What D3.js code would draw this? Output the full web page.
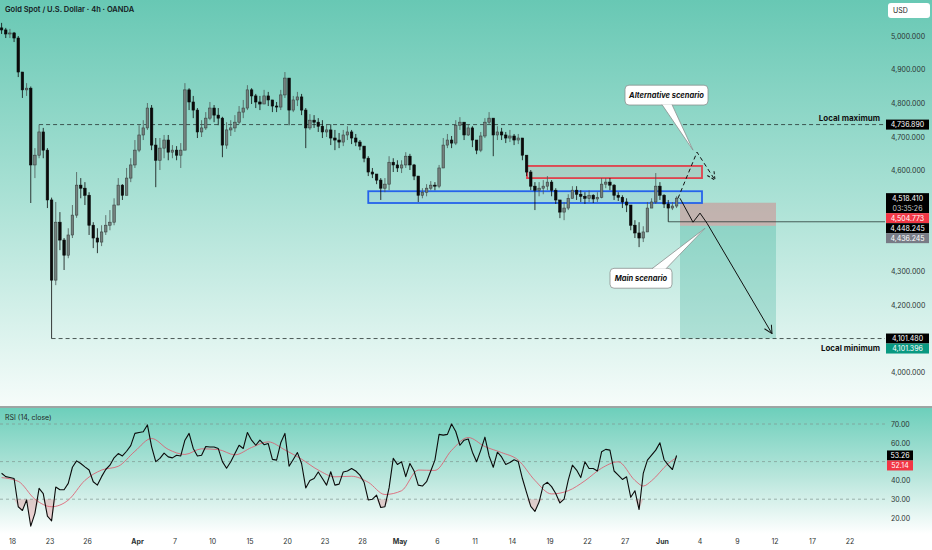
<!DOCTYPE html>
<html>
<head>
<meta charset="utf-8">
<script src="https://cdn.jsdelivr.net/npm/d3@7"></script>
<style>
html, body { margin: 0; padding: 0; background: #fff; }
svg { display: block; font-family: Inter, "Noto Sans", sans-serif; }
</style>
</head>
<body>
<svg id="chart" width="932" height="550"></svg>
<script>
// ---- data ----
var tickDays = [0, 3, 6, 10, 13, 16, 19, 22, 25, 28, 31, 34, 37, 40, 43, 46, 49, 52, 55, 58, 61, 64, 67];
var tickLabels = ['18', '23', '26', 'Apr', '7', '10', '15', '20', '23', '28', 'May', '6', '11', '14', '19', '22', '27', 'Jun', '4', '9', '12', '17', '22'];
var priceTicks = [4000, 4200, 4300, 4600, 4700, 4800, 4900, 5000];
var rsiTicks = [20, 30, 40, 60, 70];
var rsiLevels = [30, 50, 70];

// candles: one per third of a trading session, open = previous close
var firstDay = -1;
var barDays = 1 / 3;
var firstOpen = 5024;
var closes = [5018, 5006, 5009, 4994, 4893, 4840, 4845, 4617, 4646, 4715,
    4661, 4513, 4275, 4447, 4394, 4349, 4409, 4468, 4557, 4548,
    4527, 4438, 4400, 4388, 4418, 4438, 4447, 4498, 4557, 4527,
    4578, 4617, 4661, 4706, 4727, 4786, 4676, 4631, 4667, 4691,
    4655, 4661, 4646, 4661, 4840, 4804, 4780, 4715, 4727, 4756,
    4786, 4765, 4756, 4676, 4721, 4727, 4744, 4774, 4786, 4840,
    4822, 4804, 4798, 4822, 4810, 4792, 4789, 4825, 4875, 4780,
    4810, 4819, 4780, 4727, 4750, 4744, 4732, 4715, 4721, 4697,
    4691, 4685, 4706, 4715, 4697, 4685, 4673, 4637, 4596, 4590,
    4572, 4548, 4560, 4625, 4617, 4608, 4617, 4643, 4617, 4584,
    4527, 4536, 4548, 4557, 4554, 4608, 4676, 4691, 4682, 4735,
    4744, 4706, 4727, 4691, 4661, 4703, 4744, 4756, 4706, 4715,
    4706, 4697, 4703, 4691, 4697, 4646, 4596, 4554, 4542, 4548,
    4554, 4566, 4542, 4513, 4477, 4489, 4518, 4542, 4530, 4524,
    4518, 4527, 4516, 4521, 4560, 4566, 4557, 4527, 4521, 4507,
    4498, 4438, 4415, 4400, 4418, 4489, 4507, 4554, 4527, 4501,
    4489, 4495, 4518.41];
var highs = [5039, 5024, 5021, 5012, 5000, 4893, 4860, 4850, 4667, 4736.89,
    4727, 4667, 4520, 4507, 4477, 4400, 4429, 4498, 4596, 4578,
    4566, 4536, 4447, 4429, 4438, 4468, 4483, 4518, 4578, 4560,
    4608, 4637, 4691, 4735, 4750, 4801, 4795, 4697, 4697, 4706,
    4706, 4676, 4673, 4682, 4860, 4845, 4822, 4786, 4750, 4774,
    4804, 4795, 4786, 4760, 4744, 4750, 4765, 4792, 4810, 4854,
    4845, 4828, 4822, 4840, 4834, 4810, 4804, 4840, 4893, 4875,
    4822, 4834, 4828, 4786, 4768, 4765, 4756, 4750, 4738, 4738,
    4721, 4712, 4721, 4732, 4721, 4709, 4691, 4673, 4643, 4608,
    4590, 4578, 4578, 4643, 4637, 4631, 4631, 4655, 4650, 4620,
    4584, 4548, 4560, 4569, 4566, 4617, 4697, 4709, 4703, 4750,
    4759, 4744, 4738, 4732, 4691, 4715, 4756, 4774, 4756, 4732,
    4727, 4715, 4721, 4709, 4709, 4697, 4646, 4602, 4566, 4566,
    4572, 4584, 4572, 4548, 4513, 4507, 4530, 4554, 4554, 4542,
    4536, 4542, 4530, 4536, 4578, 4578, 4578, 4560, 4536, 4527,
    4518, 4498, 4453, 4447, 4435, 4507, 4518, 4593, 4566, 4530,
    4513, 4507, 4524];
var lows = [5006, 4994, 4994, 4982, 4878, 4816, 4822, 4504, 4578, 4637,
    4637, 4489, 4101.48, 4260, 4364, 4305, 4340, 4400, 4460, 4518,
    4498, 4409, 4370, 4355, 4376, 4409, 4423, 4438, 4498, 4513,
    4527, 4566, 4608, 4655, 4691, 4721, 4661, 4551, 4602, 4637,
    4631, 4637, 4631, 4608, 4661, 4780, 4756, 4697, 4700, 4721,
    4750, 4744, 4735, 4640, 4665, 4703, 4715, 4738, 4756, 4780,
    4798, 4786, 4780, 4798, 4792, 4774, 4774, 4780, 4816, 4735,
    4774, 4792, 4765, 4667, 4721, 4727, 4715, 4697, 4700, 4676,
    4661, 4667, 4673, 4691, 4679, 4673, 4661, 4625, 4584, 4578,
    4560, 4513, 4536, 4542, 4596, 4596, 4593, 4608, 4602, 4572,
    4507, 4518, 4524, 4542, 4542, 4548, 4608, 4667, 4667, 4676,
    4721, 4691, 4703, 4670, 4649, 4655, 4697, 4738, 4643, 4691,
    4691, 4682, 4685, 4676, 4679, 4631, 4584, 4542, 4483, 4524,
    4530, 4542, 4524, 4501, 4459, 4453, 4483, 4518, 4513, 4507,
    4501, 4507, 4504, 4507, 4518, 4548, 4542, 4513, 4510, 4489,
    4477, 4423, 4400, 4373, 4388, 4418, 4489, 4501, 4513, 4489,
    4448.245, 4483, 4489];

var rsi = [43.8, 42, 41.5, 41, 26, 24, 29.6, 15.7, 22.5, 35.8,
    33, 21, 18.5, 36.5, 35, 35, 38.4, 47, 50.4, 49,
    47.2, 45.5, 39.3, 37.5, 42, 45.8, 48.1, 52, 54.3, 53,
    55.5, 58.5, 65, 65.5, 65.9, 69.5, 58, 50, 51.7, 54.5,
    52.5, 52, 53.4, 53, 61.4, 65, 57, 53, 53.4, 58,
    57.8, 57.8, 57, 50, 46.5, 49.9, 54.3, 58.7, 57, 65.5,
    61.4, 58.7, 61.4, 59, 59.6, 51.2, 50.8, 60, 65, 47.5,
    51.1, 54.8, 49, 36, 40, 41, 44.5, 41, 37.5, 44.6,
    37.5, 38, 44.5, 45, 46.3, 45, 42.8, 39, 29.6, 30,
    32.2, 25.6, 26, 36, 51.7, 48.5, 49.9, 42, 49, 45,
    37.5, 37, 39.3, 45, 50.8, 64.5, 64.1, 64.5, 70, 66,
    58.7, 61.4, 62, 55, 49.9, 56, 63, 53, 47, 55,
    52.5, 48.5, 49.5, 51, 50, 41, 33.5, 26.2, 23.5, 28.5,
    37.5, 39, 36.7, 33, 28, 30, 40.1, 48.1, 45.5, 41.5,
    49.9, 46.3, 46.3, 45, 55.2, 56.5, 56.1, 45, 42.8, 40.5,
    41.9, 31, 34.5, 24.5, 43.7, 50.8, 53.4, 56.1, 60, 51,
    48.1, 45.8, 53.26];
var maIdx = [0, 4, 8, 12, 16, 20, 24, 28, 32, 36, 40, 44, 48, 52, 56, 60, 64, 68, 72, 76,
    80, 84, 88, 92, 96, 100, 104, 108, 112, 116, 120, 124, 128, 132, 136, 140, 144, 148, 152,
    154, 156, 160, 162];
var maVal = [41.5, 39.5, 30, 26, 29.5, 40, 45.5, 47.5, 55.5, 62.3, 56.5, 53.8, 56.8, 56.4, 53.6, 57.5, 60.5, 56.2, 51.3, 45.5,
    41.9, 42.2, 39, 32.5, 34.5, 45.5, 45.3, 56, 62.8, 58, 54.8, 50.8, 40, 32.8, 34.5, 39.8, 46.5, 49.9, 40,
    37, 39.8, 49, 52.14];

// drawing levels and zones (days, prices)
var localMax = 4736.89, localMaxBar = 9;
var localMin = 4101.48, localMinBar = 12;
var lastLow = 4448.245, lastLowBar = 160;
var stopLevel = 4504.773, entryLevel = 4436.245, targetLevel = 4101.396;
var positionDays = [53.44, 61.12];
var blueZoneDays = [28.5, 55.2], blueZonePrices = [4504, 4539];
var redZoneDays = [41.2, 55.2], redZonePrices = [4578, 4614];
var altDays = [53.28, 54.8, 56.24], altPrices = [4518, 4655, 4572];
var mainDays = [53.44, 54.48, 55.04, 55.6, 60.8], mainPrices = [4518, 4447, 4474, 4444, 4116];
var altBoxDays = [49.04, 55.68], altBoxPrices = [4854, 4795], altTip = [54.48, 4661];
var mainBoxDays = [47.84, 52.8], mainBoxPrices = [4310, 4251], mainTip = [55.44, 4429];

// ---- layout ----
var svg = d3.select('#chart');
var plotRight = 885;
var mainBottom = 406;
var rsiTop = 408, rsiBottom = 534;

var x = d3.scaleLinear().domain([tickDays[0], tickDays[tickDays.length - 1]]).range([12, 849.5]);
var y = d3.scaleLinear().domain([4000, 5000]).range([372.7, 36]);
var yr = d3.scaleLinear().domain([20, 70]).range([518, 424]);

var candles = closes.map(function(c, i) {
    return {
        day: firstDay + (i + 0.5) * barDays,
        o: i ? closes[i - 1] : firstOpen,
        h: highs[i],
        l: lows[i],
        c: c
    };
});

var defs = svg.append('defs');
var g1 = defs.append('linearGradient').attr('id', 'bgMain').attr('x1', 0).attr('y1', 0).attr('x2', 0).attr('y2', 1);
g1.append('stop').attr('offset', '0%').attr('stop-color', '#68c8b4');
g1.append('stop').attr('offset', '50%').attr('stop-color', '#ace2d6');
g1.append('stop').attr('offset', '100%').attr('stop-color', '#f6fcfa');
var g2 = defs.append('linearGradient').attr('id', 'bgRsi').attr('x1', 0).attr('y1', 0).attr('x2', 0).attr('y2', 1);
g2.append('stop').attr('offset', '0%').attr('stop-color', '#6dcfbb');
g2.append('stop').attr('offset', '55%').attr('stop-color', '#b9e6dc');
g2.append('stop').attr('offset', '100%').attr('stop-color', '#ffffff');
defs.append('clipPath').attr('id', 'clipMain').append('rect')
    .attr('x', 0).attr('y', 0).attr('width', plotRight).attr('height', mainBottom);

function arrowMarker(id, dash) {
    defs.append('marker').attr('id', id)
        .attr('viewBox', '0 0 10 10').attr('refX', 9).attr('refY', 5)
        .attr('markerWidth', 10).attr('markerHeight', 10)
        .attr('markerUnits', 'userSpaceOnUse').attr('orient', 'auto')
        .append('path').attr('d', 'M1,1 L9,5 L1,9')
        .attr('fill', 'none').attr('stroke', '#111').attr('stroke-width', 1)
        .attr('stroke-dasharray', dash);
}
arrowMarker('arrowMain', null);
arrowMarker('arrowAlt', '3,2');

svg.append('rect').attr('width', 932).attr('height', 550).attr('fill', '#fff');
svg.append('rect').attr('width', 932).attr('height', mainBottom).attr('fill', 'url(#bgMain)');
svg.append('rect').attr('y', rsiTop).attr('width', 932).attr('height', rsiBottom - rsiTop).attr('fill', 'url(#bgRsi)');
svg.append('line').attr('x1', 0).attr('x2', 932).attr('y1', 407).attr('y2', 407)
    .attr('stroke', '#3d4a48').attr('stroke-width', 1);

// ---- main panel ----
var main = svg.append('g').attr('clip-path', 'url(#clipMain)');

// position tool
main.append('rect')
    .attr('x', x(positionDays[0])).attr('width', x(positionDays[1]) - x(positionDays[0]))
    .attr('y', y(stopLevel)).attr('height', y(entryLevel) - y(stopLevel))
    .attr('fill', 'rgba(242,54,69,0.28)');
main.append('rect')
    .attr('x', x(positionDays[0])).attr('width', x(positionDays[1]) - x(positionDays[0]))
    .attr('y', y(entryLevel)).attr('height', y(targetLevel) - y(entryLevel))
    .attr('fill', 'rgba(8,153,129,0.22)');

// levels
main.append('line')
    .attr('x1', x(candles[localMaxBar].day)).attr('x2', plotRight)
    .attr('y1', y(localMax)).attr('y2', y(localMax))
    .attr('stroke', '#263331').attr('stroke-width', 0.8).attr('stroke-dasharray', '4,3');
main.append('line')
    .attr('x1', x(candles[localMinBar].day)).attr('x2', plotRight)
    .attr('y1', y(localMin)).attr('y2', y(localMin))
    .attr('stroke', '#263331').attr('stroke-width', 0.8).attr('stroke-dasharray', '4,3');
main.append('line')
    .attr('x1', x(candles[lastLowBar].day)).attr('x2', plotRight)
    .attr('y1', y(lastLow)).attr('y2', y(lastLow))
    .attr('stroke', '#2b3836').attr('stroke-width', 0.8);

// zones
main.append('rect')
    .attr('x', x(redZoneDays[0])).attr('width', x(redZoneDays[1]) - x(redZoneDays[0]))
    .attr('y', y(redZonePrices[1])).attr('height', y(redZonePrices[0]) - y(redZonePrices[1]))
    .attr('fill', 'rgba(242,54,69,0.08)').attr('stroke', '#e0414c').attr('stroke-width', 1.8);
main.append('rect')
    .attr('x', x(blueZoneDays[0])).attr('width', x(blueZoneDays[1]) - x(blueZoneDays[0]))
    .attr('y', y(blueZonePrices[1])).attr('height', y(blueZonePrices[0]) - y(blueZonePrices[1]))
    .attr('fill', 'rgba(41,98,255,0.06)').attr('stroke', '#2563eb').attr('stroke-width', 1.8);

// candles
var step = x(barDays) - x(0);
var bodyW = step * 0.6;
var cg = main.append('g');
cg.selectAll('line.wick').data(candles).enter().append('line')
    .attr('class', 'wick')
    .attr('x1', function(d) { return x(d.day); })
    .attr('x2', function(d) { return x(d.day); })
    .attr('y1', function(d) { return y(d.h); })
    .attr('y2', function(d) { return y(d.l); })
    .attr('stroke', function(d) { return d.c >= d.o ? '#4d5856' : '#0b0b0b'; })
    .attr('stroke-width', 0.8);
cg.selectAll('rect.body').data(candles).enter().append('rect')
    .attr('class', 'body')
    .attr('x', function(d) { return x(d.day) - bodyW / 2; })
    .attr('width', bodyW)
    .attr('y', function(d) { return y(Math.max(d.o, d.c)); })
    .attr('height', function(d) { return Math.max(0.8, Math.abs(y(d.o) - y(d.c))); })
    .attr('fill', function(d) { return d.c >= d.o ? '#74817e' : '#0b0b0b'; })
    .attr('stroke', function(d) { return d.c >= d.o ? '#3a4341' : '#0b0b0b'; })
    .attr('stroke-width', 0.6);

// scenarios
var pathLine = d3.line()
    .x(function(d) { return x(d[0]); })
    .y(function(d) { return y(d[1]); });
main.append('path')
    .attr('d', pathLine(altDays.map(function(d, i) { return [d, altPrices[i]]; })))
    .attr('fill', 'none').attr('stroke', '#111').attr('stroke-width', 1)
    .attr('stroke-dasharray', '4,3').attr('marker-end', 'url(#arrowAlt)');
main.append('path')
    .attr('d', pathLine(mainDays.map(function(d, i) { return [d, mainPrices[i]]; })))
    .attr('fill', 'none').attr('stroke', '#111').attr('stroke-width', 1)
    .attr('marker-end', 'url(#arrowMain)');

// callouts
function callout(days, prices, tip, label, tailBase) {
    var x0 = x(days[0]), x1 = x(days[1]);
    var top = y(prices[0]), bottom = y(prices[1]);
    var base = tailBase(x0, x1, top, bottom);
    main.append('rect')
        .attr('x', x0).attr('y', top).attr('width', x1 - x0).attr('height', bottom - top)
        .attr('rx', 4).attr('fill', '#fff').attr('stroke', '#8a8f8e').attr('stroke-width', 0.8);
    main.append('path')
        .attr('d', 'M' + base[0] + ' L' + x(tip[0]) + ',' + y(tip[1]) + ' L' + base[1])
        .attr('fill', '#fff').attr('stroke', '#8a8f8e').attr('stroke-width', 0.8);
    main.append('text')
        .attr('x', (x0 + x1) / 2).attr('y', (top + bottom) / 2).attr('dy', '0.35em')
        .attr('text-anchor', 'middle')
        .attr('font-size', 7.5).attr('font-style', 'italic').attr('font-weight', 700)
        .attr('fill', '#111').text(label);
}
callout(altBoxDays, altBoxPrices, altTip, 'Alternative scenario', function(x0, x1, top, bottom) {
    return [[x0 + 37, bottom - 0.4], [x0 + 47, bottom - 0.4]];
});
callout(mainBoxDays, mainBoxPrices, mainTip, 'Main scenario', function(x0, x1, top, bottom) {
    return [[x1 - 20, top + 0.4], [x1 - 6, top + 0.4]];
});

// level captions
svg.append('text').attr('x', plotRight - 5).attr('y', y(localMax) - 4)
    .attr('text-anchor', 'end').attr('font-size', 8).attr('font-weight', 700)
    .attr('fill', '#111').text('Local maximum');
svg.append('text').attr('x', plotRight - 5).attr('y', y(localMin) + 12)
    .attr('text-anchor', 'end').attr('font-size', 8).attr('font-weight', 700)
    .attr('fill', '#111').text('Local minimum');

// title
svg.append('text').attr('x', 5).attr('y', 12)
    .attr('font-size', 7.5).attr('font-weight', 600).attr('fill', '#15201e')
    .text('Gold Spot / U.S. Dollar \u00b7 4h \u00b7 OANDA');

// ---- price axis ----
var priceAxis = svg.append('g').attr('transform', 'translate(886,0)')
    .call(d3.axisRight(y).tickValues(priceTicks).tickSize(0).tickPadding(5).tickFormat(d3.format(',.3f')));
priceAxis.select('.domain').remove();
priceAxis.selectAll('text').attr('font-size', 7).attr('fill', '#2c3433').attr('font-family', 'Inter, "Noto Sans", sans-serif');

svg.append('rect').attr('x', 888).attr('y', 3).attr('width', 42).attr('height', 15).attr('rx', 3)
    .attr('fill', '#fff');
svg.append('text').attr('x', 893).attr('y', 13).attr('font-size', 7).attr('fill', '#222').text('USD');

function stackLabels(list, scale, left, width) {
    list.sort(function(a, b) { return b.v - a.v; });
    var prevBottom = -Infinity;
    list.forEach(function(d) {
        var h = 10 * d.text.length;
        var top = Math.max(scale(d.v) - 5, prevBottom);
        prevBottom = top + h;
        svg.append('rect').attr('x', left).attr('y', top).attr('width', width).attr('height', h)
            .attr('fill', d.fill);
        d.text.forEach(function(t, k) {
            svg.append('text').attr('x', left + width / 2).attr('y', top + 5 + k * 10).attr('dy', '0.35em')
                .attr('text-anchor', 'middle').attr('font-size', 7)
                .attr('fill', k ? '#c9cccc' : '#fff').text(t);
        });
    });
}
var fmt3 = d3.format(',.3f');
stackLabels([
    { v: localMax, text: [fmt3(localMax)], fill: '#000' },
    { v: closes[closes.length - 1], text: [fmt3(closes[closes.length - 1]), '03:35:26'], fill: '#000' },
    { v: stopLevel, text: [fmt3(stopLevel)], fill: '#f23645' },
    { v: lastLow, text: [fmt3(lastLow)], fill: '#000' },
    { v: entryLevel, text: [fmt3(entryLevel)], fill: '#787b86' },
    { v: localMin, text: [fmt3(localMin)], fill: '#000' },
    { v: targetLevel, text: [fmt3(targetLevel)], fill: '#089981' }
], y, 886, 43);

// ---- RSI panel ----
svg.append('text').attr('x', 5).attr('y', 420).attr('font-size', 7).attr('fill', '#1e2a28')
    .text('RSI (14, close)');
svg.selectAll('line.level').data(rsiLevels).enter().append('line')
    .attr('class', 'level')
    .attr('x1', 0).attr('x2', plotRight)
    .attr('y1', function(d) { return yr(d); }).attr('y2', function(d) { return yr(d); })
    .attr('stroke', '#7f9691').attr('stroke-width', 0.7).attr('stroke-dasharray', '3,3');

var rsiPts = rsi.map(function(v, i) { return [candles[i].day, v]; });
svg.append('path')
    .datum(rsiPts)
    .attr('d', d3.area()
        .x(function(d) { return x(d[0]); })
        .y0(yr(30))
        .y1(function(d) { return yr(Math.min(d[1], 30)); }))
    .attr('fill', 'rgba(242,54,69,0.2)');
svg.append('path')
    .datum(maIdx.map(function(k, i) { return [candles[k].day, maVal[i]]; }))
    .attr('d', d3.line().curve(d3.curveMonotoneX)
        .x(function(d) { return x(d[0]); })
        .y(function(d) { return yr(d[1]); }))
    .attr('fill', 'none').attr('stroke', '#e0566a').attr('stroke-width', 0.8);
svg.append('path')
    .datum(rsiPts)
    .attr('d', d3.line()
        .x(function(d) { return x(d[0]); })
        .y(function(d) { return yr(d[1]); }))
    .attr('fill', 'none').attr('stroke', '#0b0b0b').attr('stroke-width', 1.1)
    .attr('stroke-linejoin', 'round');

var rsiAxis = svg.append('g').attr('transform', 'translate(886,0)')
    .call(d3.axisRight(yr).tickValues(rsiTicks).tickSize(0).tickPadding(5).tickFormat(d3.format('.2f')));
rsiAxis.select('.domain').remove();
rsiAxis.selectAll('text').attr('font-size', 7).attr('fill', '#2c3433').attr('font-family', 'Inter, "Noto Sans", sans-serif');

var fmt2 = d3.format('.2f');
stackLabels([
    { v: rsi[rsi.length - 1], text: [fmt2(rsi[rsi.length - 1])], fill: '#000' },
    { v: maVal[maVal.length - 1], text: [fmt2(maVal[maVal.length - 1])], fill: '#f23645' }
], yr, 887, 26);

// ---- time axis ----
var timeAxis = svg.append('g').attr('transform', 'translate(0,536)')
    .call(d3.axisBottom(x).tickValues(tickDays).tickSize(0).tickPadding(3)
        .tickFormat(function(d, i) { return tickLabels[i]; }));
timeAxis.select('.domain').remove();
timeAxis.selectAll('text')
    .attr('font-size', 7).attr('fill', '#2c3433').attr('font-family', 'Inter, "Noto Sans", sans-serif')
    .attr('font-weight', function(d, i) { return isNaN(+tickLabels[i]) ? 700 : 400; });
</script>
</body>
</html>
